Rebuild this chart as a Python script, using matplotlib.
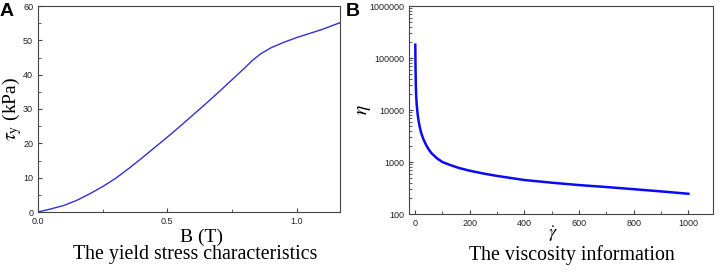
import matplotlib
matplotlib.use("Agg")
import matplotlib.pyplot as plt
from matplotlib.ticker import MultipleLocator, LogLocator, NullFormatter, FuncFormatter

plt.rcParams['font.family'] = ['Liberation Sans', 'DejaVu Sans']
plt.rcParams['mathtext.fontset'] = 'stix'

# Panel A: yield stress vs magnetic field
field_T = [0.0, 0.05, 0.1, 0.15, 0.2, 0.25, 0.3, 0.35, 0.4, 0.45, 0.5, 0.55, 0.6,
           0.65, 0.7, 0.75, 0.8, 0.83, 0.86, 0.9, 0.95, 1.0, 1.05, 1.1, 1.17]
yield_kPa = [0.0, 0.9, 1.9, 3.4, 5.3, 7.4, 9.8, 12.6, 15.6, 18.7, 21.8, 25.0, 28.3,
             31.6, 35.0, 38.5, 42.0, 44.2, 46.0, 47.8, 49.4, 50.8, 52.0, 53.2, 55.2]

# Panel B: viscosity vs shear rate
shear_rate = [1, 2, 3, 4, 6, 8, 10, 13, 17, 22, 30, 40, 50, 60, 80, 100, 130, 160,
              200, 250, 300, 400, 500, 600, 700, 800, 900, 1000]
viscosity = [180000, 60000, 30000, 20000, 13000, 10000, 8000, 6200, 4800, 3700,
             2800, 2150, 1750, 1480, 1180, 1000, 870, 770, 680, 600, 540, 450,
             400, 360, 330, 300, 272, 245]

fig = plt.figure(figsize=(7.2, 2.72), dpi=100)
axA = fig.add_axes([38/720, 1-212/272, 302/720, 206/272])
axB = fig.add_axes([409/720, 1-214/272, 304/720, 208/272])

frame = '#444444'
for ax in (axA, axB):
    for s in ax.spines.values():
        s.set_color(frame)
        s.set_linewidth(0.8)
    ax.tick_params(which='both', direction='in', top=False, right=False,
                   labelsize=6.5, colors=frame, labelcolor='#222222')
    ax.tick_params(which='major', length=3)
    ax.tick_params(which='minor', length=2)

# A
axA.plot(field_T, yield_kPa, color='#3030d8', lw=1.0)
axA.set_xlim(0, 1.168)
axA.set_ylim(0, 60)
axA.xaxis.set_major_locator(MultipleLocator(0.5))
axA.xaxis.set_minor_locator(MultipleLocator(0.25))
axA.yaxis.set_major_locator(MultipleLocator(10))
axA.yaxis.set_minor_locator(MultipleLocator(5))
axA.xaxis.set_major_formatter(FuncFormatter(lambda v, p: f'{v:.1f}'))
axA.set_xlabel('B (T)', family='Liberation Serif', fontsize=14)
axA.set_ylabel(r'$\tau_\mathrm{y}$ (kPa)', family='Liberation Serif', fontsize=14)
axA.xaxis.set_label_coords(0.543, -0.121)
axA.yaxis.set_label_coords(-0.086, 0.5)
axA.xaxis.label.set_va('center')
axA.yaxis.label.set_va('center')

# B
axB.plot(shear_rate, viscosity, color='#0a0af5', lw=1.8)
axB.set_yscale('log')
axB.set_xlim(-22, 1090)
axB.set_ylim(100, 1e6)
axB.xaxis.set_major_locator(MultipleLocator(200))
axB.xaxis.set_minor_locator(MultipleLocator(100))
axB.yaxis.set_major_locator(LogLocator(base=10, numticks=10))
axB.yaxis.set_minor_locator(LogLocator(base=10, subs=range(2, 10), numticks=20))
axB.yaxis.set_minor_formatter(NullFormatter())
axB.yaxis.set_major_formatter(FuncFormatter(lambda v, p: f'{int(round(v))}'))
axB.set_xlabel(r'$\dot{\gamma}$', fontsize=13)
axB.set_ylabel(r'$\eta$', fontsize=14)
axB.xaxis.set_label_coords(0.474, -0.095)
axB.yaxis.set_label_coords(-0.148, 0.5)
axB.xaxis.label.set_va('center')
axB.yaxis.label.set_va('center')

# captions and panel letters
fig.text(195/720, 1-255/272, 'The yield stress characteristics', family='Liberation Serif',
         fontsize=14.3, ha='center', va='center')
fig.text(572/720, 1-255/272, 'The viscosity information', family='Liberation Serif',
         fontsize=14.3, ha='center', va='center')
fig.text(0/720, 1-11/272, 'A', fontsize=14, fontweight='bold', ha='left', va='center')
fig.text(346/720, 1-11/272, 'B', fontsize=14, fontweight='bold', ha='left', va='center')

fig.savefig('out.png', dpi=100)
